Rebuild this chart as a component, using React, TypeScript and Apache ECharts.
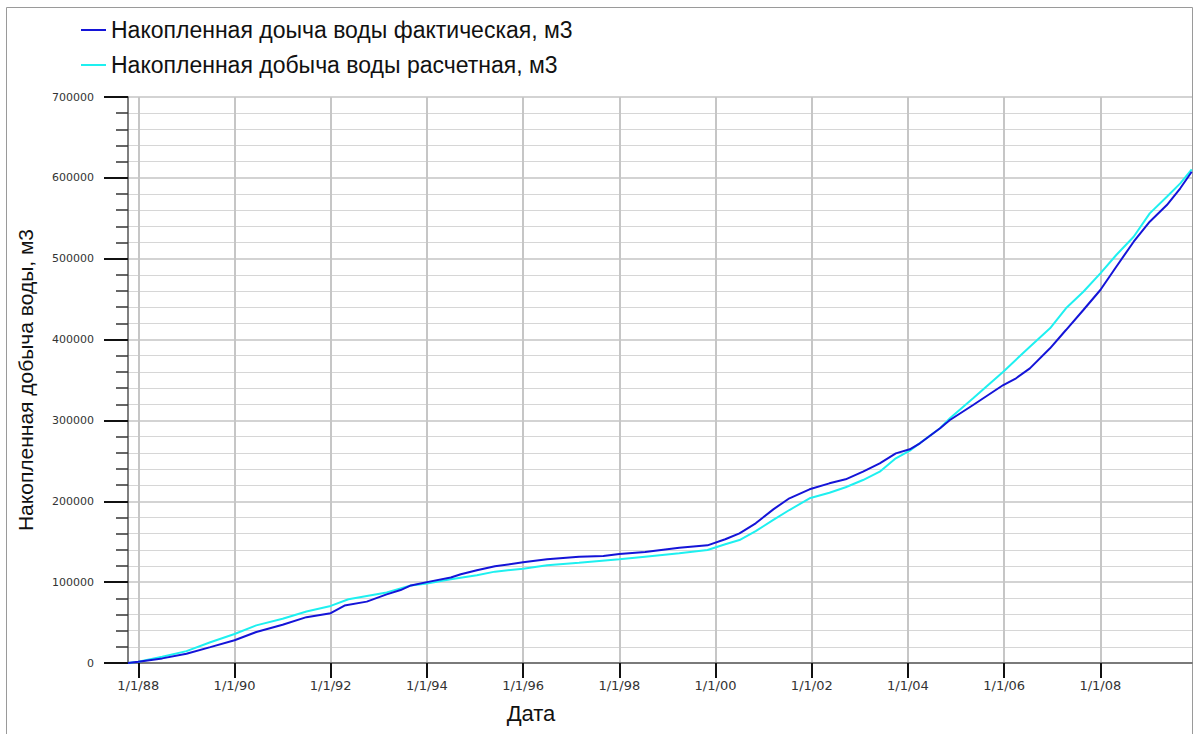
import React, { useEffect, useRef } from "react";
import * as echarts from "echarts";

const factName = "Накопленная доыча воды фактическая, м3";
const calcName = "Накопленная добыча воды расчетная, м3";
const yTitle = "Накопленная добыча воды, м3";
const xTitle = "Дата";

const xMin = "1987-10-15";
const xMax = "2009-11-27";
const tickDates = [
  "1988-01-01", "1990-01-01", "1992-01-01", "1994-01-01", "1996-01-01", "1998-01-01",
  "2000-01-01", "2002-01-01", "2004-01-01", "2006-01-01", "2008-01-01",
];

const factDates = [
  "1987-10-15", "1988-01-01", "1988-07-01", "1989-01-01", "1989-07-01", "1990-01-01",
  "1990-06-15", "1991-01-01", "1991-07-01", "1992-01-01", "1992-04-15", "1992-10-01",
  "1993-03-01", "1993-06-15", "1993-09-01", "1994-01-01", "1994-07-01", "1994-09-15",
  "1995-01-15", "1995-06-01", "1996-01-01", "1996-07-01", "1997-03-01", "1997-09-01",
  "1998-01-01", "1998-07-15", "1999-04-01", "1999-11-01", "2000-03-15", "2000-07-01",
  "2000-11-01", "2001-03-15", "2001-07-15", "2001-12-15", "2002-05-15", "2002-09-15",
  "2003-01-25", "2003-06-01", "2003-10-01", "2004-01-15", "2004-04-01", "2004-09-01",
  "2004-11-15", "2005-05-10", "2005-12-25", "2006-04-01", "2006-07-15", "2006-12-15",
  "2007-04-15", "2007-08-25", "2008-01-01", "2008-05-01", "2008-09-10", "2009-01-10",
  "2009-05-20", "2009-08-30", "2009-11-25",
];
const factValues = [
  0, 1500, 5700, 11400, 19600, 28200,
  38400, 47300, 56700, 61600, 71000, 75900,
  84900, 90200, 95900, 100000, 105700, 109800,
  114700, 119600, 124500, 128200, 131500, 132300,
  134800, 137300, 142600, 145500, 153000, 160400,
  172800, 190000, 203700, 214800, 222200, 227200,
  236600, 247000, 259300, 264300, 271700, 290300,
  300500, 319100, 343800, 352100, 364400, 389200,
  411800, 436600, 461300, 490100, 521000, 545800,
  566400, 587100, 607600,
];

const calcDates = [
  "1987-10-15", "1988-01-01", "1988-07-01", "1989-01-01", "1989-07-01", "1990-01-01",
  "1990-06-15", "1991-01-01", "1991-07-01", "1992-01-01", "1992-05-15", "1993-03-01",
  "1993-09-01", "1994-01-01", "1994-07-01", "1995-01-15", "1995-06-01", "1996-01-01",
  "1996-07-01", "1997-03-01", "1998-01-01", "1998-07-15", "1999-04-01", "1999-11-01",
  "2000-03-15", "2000-07-01", "2000-11-01", "2001-03-15", "2001-07-15", "2001-12-15",
  "2002-05-15", "2002-09-15", "2003-01-25", "2003-06-01", "2003-10-01", "2004-01-15",
  "2004-09-01", "2004-11-15", "2005-05-10", "2005-12-25", "2006-07-15", "2006-12-15",
  "2007-04-15", "2007-08-25", "2008-01-01", "2008-05-01", "2008-09-10", "2009-01-10",
  "2009-05-20", "2009-08-30", "2009-11-25",
];
const calcValues = [
  0, 1600, 7800, 14700, 25700, 35900,
  46500, 54700, 63700, 70600, 78800, 87300,
  95900, 98400, 103700, 108600, 113000, 116600,
  120800, 124000, 128200, 131500, 135700, 139800,
  146800, 152100, 163200, 176900, 189200, 203700,
  210600, 217300, 226300, 236600, 253200, 262600,
  290300, 302600, 327300, 360300, 391200, 413900,
  438700, 459200, 481900, 504600, 527200, 556100,
  576700, 593200, 610600,
];

const parse = (s: string): number => {
  const [y, m, d] = s.split("-").map(Number);
  return Date.UTC(y, m - 1, d);
};

export default function App() {
  const ref = useRef<HTMLDivElement>(null);
  useEffect(() => {
    if (!ref.current) return;
    const chart = echarts.init(ref.current, undefined, { renderer: "svg" });
    const ticks = tickDates.map(parse);
    const fmt = (v: number) => {
      const d = new Date(v);
      return `${d.getUTCMonth() + 1}/${d.getUTCDate()}/${String(d.getUTCFullYear()).slice(2)}`;
    };
    chart.setOption({
      animation: false,
      backgroundColor: "#ffffff",
      textStyle: { fontFamily: "Liberation Sans" },
      grid: { left: 128, right: 4, top: 97, bottom: 71, containLabel: false },
      legend: {
        orient: "vertical",
        left: 76,
        top: 13,
        icon: "rect",
        itemWidth: 25,
        itemHeight: 2,
        itemGap: 11,
        data: [factName, calcName],
        textStyle: { fontSize: 23, lineHeight: 24, color: "#111", fontFamily: "Liberation Sans" },
      },
      xAxis: {
        type: "value",
        min: parse(xMin),
        max: parse(xMax),
        axisLine: { show: true, onZero: false, lineStyle: { color: "#7a7a7a", width: 2 } },
        axisTick: { show: true, customValues: ticks, length: 15, lineStyle: { color: "#111", width: 2 } },
        axisLabel: {
          customValues: ticks,
          formatter: fmt,
          margin: 16,
          fontSize: 13,
          fontFamily: "DejaVu Sans",
          color: "#333",
          hideOverlap: false,
          showMinLabel: true,
          showMaxLabel: true,
        },
        splitLine: { show: true, lineStyle: { color: "#c6c6c6", width: 2 } },
      },
      yAxis: {
        type: "value",
        min: 0,
        max: 700000,
        interval: 100000,
        axisLine: { show: true, lineStyle: { color: "#555", width: 1.5 } },
        axisTick: { show: true, length: 24, lineStyle: { color: "#111", width: 2 } },
        minorTick: { show: true, splitNumber: 5, length: 12, lineStyle: { color: "#333", width: 1.5 } },
        axisLabel: {
          margin: 34,
          fontSize: 11,
          fontFamily: "DejaVu Sans",
          color: "#333",
          formatter: (v: number) => String(v),
        },
        splitLine: { show: true, lineStyle: { color: "#c4c4c4", width: 1.5 } },
        minorSplitLine: { show: true, lineStyle: { color: "#d6d6d6", width: 1.2 } },
        name: yTitle,
        nameLocation: "middle",
        nameGap: 92,
        nameRotate: 90,
        nameTextStyle: { fontSize: 21, color: "#111", fontFamily: "Liberation Sans" },
      },
      graphic: [
        {
          type: "rect",
          shape: { x: 6.5, y: 7.5, width: 1186, height: 760 },
          style: { fill: "none", stroke: "#9a9a9a", lineWidth: 1 },
          silent: true,
        },
        {
          type: "text",
          x: 531,
          y: 713,
          style: {
            text: xTitle,
            fontSize: 22,
            fontFamily: "Liberation Sans",
            fill: "#111",
            align: "center",
            verticalAlign: "middle",
          },
        },
      ],
      series: [
        {
          name: calcName,
          type: "line",
          showSymbol: false,
          symbol: "none",
          lineStyle: { color: "#1ef0f0", width: 2 },
          itemStyle: { color: "#1ef0f0" },
          data: calcDates.map((d, i) => [parse(d), calcValues[i]]),
        },
        {
          name: factName,
          type: "line",
          showSymbol: false,
          symbol: "none",
          lineStyle: { color: "#1414d8", width: 2 },
          itemStyle: { color: "#1414d8" },
          data: factDates.map((d, i) => [parse(d), factValues[i]]),
        },
      ],
    });
    return () => chart.dispose();
  }, []);
  return (
    <div
      ref={ref}
      style={{ position: "fixed", left: 0, top: 0, width: 1196, height: 734, background: "#fff" }}
    />
  );
}
